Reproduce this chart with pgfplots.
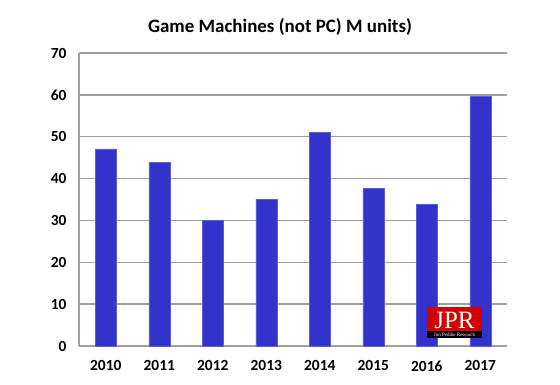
\documentclass[border=0pt]{standalone}
\usepackage{pgfplots}
\pgfplotsset{compat=1.18}
\usepackage{fontspec}
\setmainfont{Carlito}
\definecolor{barblue}{HTML}{3333CC}
\definecolor{gridgray}{HTML}{A0A0A0}
\definecolor{jprred}{HTML}{D40000}
\begin{document}
\begin{tikzpicture}[x=1bp,y=1bp]
\fill[white] (0,0) rectangle (560,384);
\useasboundingbox (0,0) rectangle (560,384);
\begin{axis}[
  at={(79bp,38bp)}, anchor=south west,
  scale only axis, width=428bp, height=293bp,
  xmin=-0.5, xmax=7.5, ymin=0, ymax=70,
  xtick=data,
  xticklabels={2010,2011,2012,2013,2014,2015,2016,2017},
  ytick={0,10,...,70},
  axis x line=bottom, axis y line=left,
  axis line style={-, draw=gridgray, line width=1.3bp},
  ymajorgrids, grid style={draw=gridgray, line width=1.3bp},
  major tick length=0pt,
  /pgf/number format/assume math mode=true,
  ticklabel style={font=\bfseries\fontsize{15.5}{16}\selectfont},
  xticklabel style={yshift=-11bp},
  yticklabel style={xshift=-9bp},
  ybar, bar width=21bp,
]
\addplot[fill=barblue, draw=barblue!80!white] coordinates {
(0,47.1) (1,43.9) (2,30.0) (3,35.1) (4,51.0) (5,37.6) (6,33.8) (7,59.6)};
\end{axis}
\node[anchor=base, font=\bfseries\fontsize{19}{20}\selectfont] at (280,352) {Game Machines (not PC) M units)};
% JPR logo
\fill[jprred] (427,53) rectangle (482,77);
\fill[black] (427,46) rectangle (482,53);
\node[text=white, font=\fontspec{Liberation Serif}\fontsize{25}{25}\selectfont, inner sep=0pt, anchor=base] at (454.5,56) {JPR};
\node[text=white, font=\fontspec{Liberation Serif}\fontsize{5}{5}\selectfont, inner sep=0pt] at (454.5,49.5) {Jon Peddie Research};
\end{tikzpicture}
\end{document}
